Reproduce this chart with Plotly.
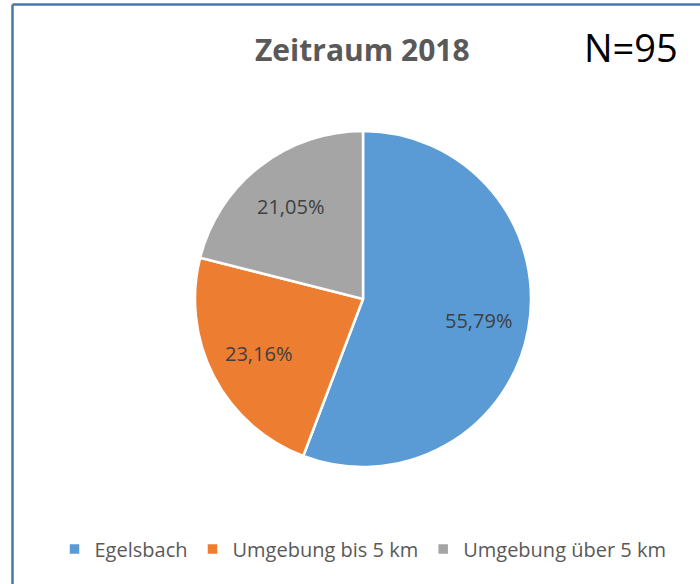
import math
import plotly.graph_objects as go

categories = ["Egelsbach", "Umgebung bis 5 km", "Umgebung über 5 km"]
counts = [53, 22, 20]
colors = ["#5B9BD5", "#ED7D31", "#A5A5A5"]
title_text = "Zeitraum 2018"
n_text = "N=95"

W, H = 700, 584
cx, cy, r = 363, 299, 168
label_r = 0.70 * r

fig = go.Figure(go.Pie(
    labels=categories,
    values=counts,
    sort=False,
    direction="clockwise",
    rotation=0,
    marker=dict(colors=colors, line=dict(color="white", width=2.5)),
    textinfo="none",
    hoverinfo="label+percent",
    domain=dict(x=[(cx - r) / W, (cx + r) / W], y=[1 - (cy + r) / H, 1 - (cy - r) / H]),
))

# percentage labels placed along each slice's bisector (derived from the data)
total = sum(counts)
annotations = []
cum = 0
for v in counts:
    mid = (cum + v / 2) / total * 2 * math.pi
    cum += v
    px = cx + label_r * math.sin(mid)
    py = cy - label_r * math.cos(mid)
    pct = f"{v / total * 100:.2f}".replace(".", ",") + "%"
    annotations.append(dict(text=pct, x=px / W, y=1 - py / H, xref="paper", yref="paper",
                            showarrow=False, xanchor="center", yanchor="middle",
                            font=dict(family="Open Sans", size=20, color="#404040")))

annotations += [
    dict(text="<b>" + title_text + "</b>", x=362 / W, y=1 - 49 / H, xref="paper", yref="paper",
         showarrow=False, xanchor="center", yanchor="middle",
         font=dict(family="Open Sans", size=30, color="#595959")),
    dict(text=n_text, x=631 / W, y=1 - 47 / H, xref="paper", yref="paper",
         showarrow=False, xanchor="center", yanchor="middle",
         font=dict(family="Open Sans", size=38, color="black")),
]

fig.update_layout(
    width=W, height=H,
    margin=dict(l=0, r=0, t=0, b=0),
    paper_bgcolor="white",
    separators=", ",
    showlegend=True,
    legend=dict(orientation="h", x=363 / W, xanchor="center", y=1 - 549 / H, yanchor="middle",
                font=dict(family="Open Sans", size=20, color="#595959"),
                itemwidth=30, traceorder="normal"),
    annotations=annotations,
    shapes=[
        dict(type="line", xref="paper", yref="paper", x0=12.5 / W, x1=12.5 / W, y0=0, y1=1 - 4.5 / H,
             line=dict(color="#4A76AE", width=2.5)),
        dict(type="line", xref="paper", yref="paper", x0=12.5 / W, x1=1, y0=1 - 4.5 / H, y1=1 - 4.5 / H,
             line=dict(color="#4A76AE", width=2.5)),
    ],
)

fig.write_html("out.html", config={"displayModeBar": False},
               post_script="document.body.style.margin='0';")
